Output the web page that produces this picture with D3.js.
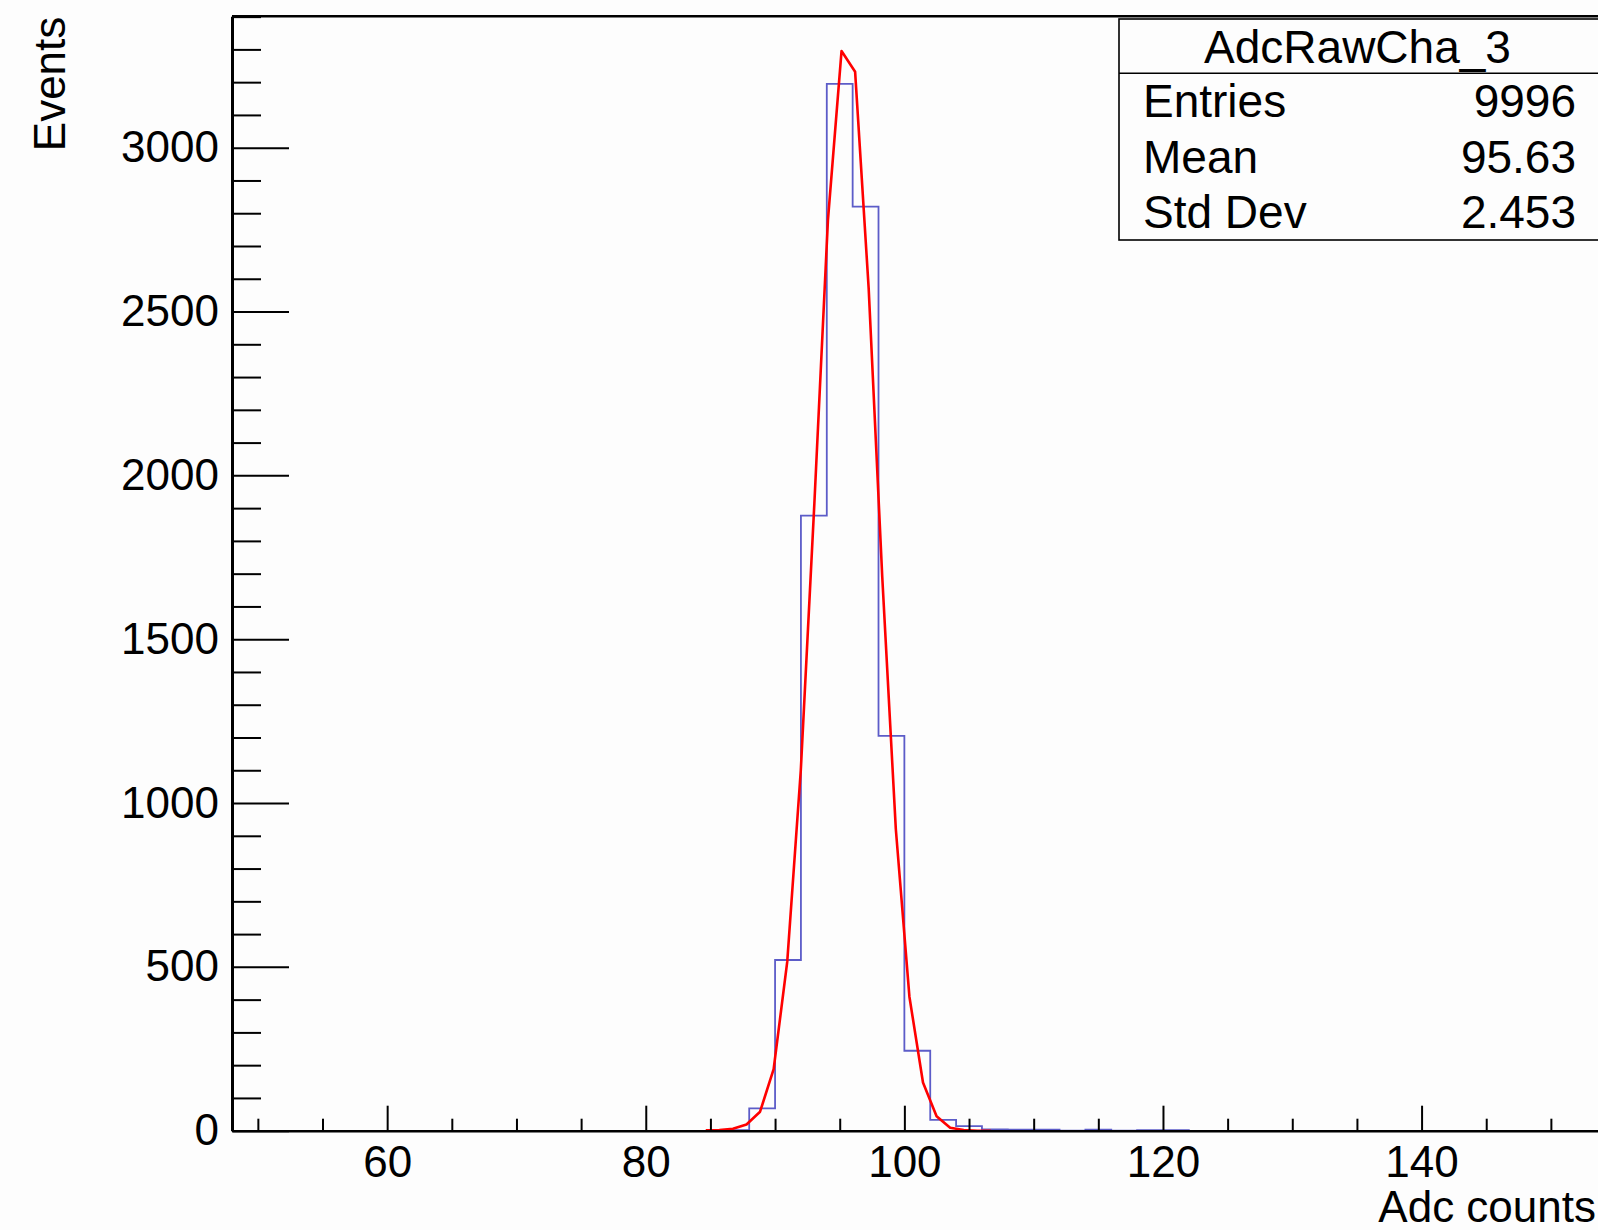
<!DOCTYPE html>
<html>
<head>
<meta charset="utf-8">
<script src="https://cdn.jsdelivr.net/npm/d3@7"></script>
<style>
  html, body { margin: 0; padding: 0; background: #fdfdfd; }
  svg { display: block; font-family: "Liberation Sans", Arial, Helvetica, sans-serif; }
</style>
</head>
<body>
<div id="chart"></div>
<script>
// histogram: low edge of each 2-count bin and its entries
const binLow = [86, 88, 90, 92, 94, 96, 98, 100, 102, 104, 106, 108, 110, 112, 114, 116, 118, 120];
const binCounts = [2, 68, 521, 1877, 3195, 2820, 1205, 244, 33, 14, 4, 3, 3, 0, 3, 0, 2, 2];
const binWidth = 2;

// gaussian fit, the polyline vertices
const fitX = [84.64, 85.69, 86.74, 87.79, 88.84, 89.89, 90.94, 91.99, 93.04, 94.09, 95.14,
  96.19, 97.24, 98.29, 99.34, 100.39, 101.44, 102.49, 103.54, 104.59, 105.64, 106.69];
const fitY = [1, 2, 6, 19, 58, 188, 515, 1100, 1915, 2780, 3295,
  3232, 2570, 1690, 920, 409, 147, 44, 9, 2, 0, 0];

const xTicks = [60, 80, 100, 120, 140];
const yTicks = [0, 500, 1000, 1500, 2000, 2500, 3000];

const histName = 'AdcRawCha_3';
const statLabels = ['Entries', 'Mean', 'Std Dev'];
const statValues = ['9996', '95.63', '2.453'];

class HistPlot {

  constructor(_config) {
    this.config = {
      parentElement: _config.parentElement,
      containerWidth: 1598,
      containerHeight: 1230,
      margin: { top: 16.3, right: -4.6, bottom: 99.3, left: 232 },
      xDomain: [48, 154],
      yDomain: [0, 3401]
    };
    this.initVis();
  }

  initVis() {
    let vis = this;

    vis.width = vis.config.containerWidth - vis.config.margin.left - vis.config.margin.right;
    vis.height = vis.config.containerHeight - vis.config.margin.top - vis.config.margin.bottom;

    vis.svg = d3.select(vis.config.parentElement).append('svg')
      .attr('width', vis.config.containerWidth)
      .attr('height', vis.config.containerHeight);

    vis.chart = vis.svg.append('g')
      .attr('transform', `translate(${vis.config.margin.left},${vis.config.margin.top})`);

    vis.xScale = d3.scaleLinear().domain(vis.config.xDomain).range([0, vis.width]);
    vis.yScale = d3.scaleLinear().domain(vis.config.yDomain).range([vis.height, 0]);

    vis.renderVis();
  }

  renderVis() {
    let vis = this;
    const x = vis.xScale, y = vis.yScale;

    // step outline of the histogram
    const last = binLow.length - 1;
    const steps = [{ x: binLow[0], y: 0 }]
      .concat(binLow.map((b, i) => ({ x: b, y: binCounts[i] })))
      .concat([{ x: binLow[last] + binWidth, y: binCounts[last] }, { x: binLow[last] + binWidth, y: 0 }]);

    vis.chart.append('path')
      .datum(steps)
      .attr('fill', 'none')
      .attr('stroke', '#5c5cc8')
      .attr('stroke-width', 1.8)
      .attr('d', d3.line().x(d => x(d.x)).y(d => y(d.y)).curve(d3.curveStepAfter));

    vis.chart.append('path')
      .datum(fitX.map((v, i) => [v, fitY[i]]))
      .attr('fill', 'none')
      .attr('stroke', '#ff0000')
      .attr('stroke-width', 2.6)
      .attr('stroke-linejoin', 'round')
      .attr('d', d3.line().x(d => x(d[0])).y(d => y(d[1])));

    // minor ticks first, majors + labels on top
    const yMinor = d3.range(0, 3401, 100).filter(v => v % 500 !== 0);
    const xMinor = d3.range(50, 155, 5).filter(v => v % 20 !== 0);

    vis.chart.append('g')
      .attr('class', 'axis y-minor')
      .call(d3.axisLeft(y).tickValues(yMinor).tickSize(-29).tickFormat(''));

    vis.chart.append('g')
      .attr('class', 'axis x-minor')
      .attr('transform', `translate(0,${vis.height})`)
      .call(d3.axisBottom(x).tickValues(xMinor).tickSize(-12).tickFormat(''));

    vis.chart.append('g')
      .attr('class', 'axis y-axis')
      .call(d3.axisLeft(y).tickValues(yTicks).tickSizeInner(-57).tickSizeOuter(0)
        .tickPadding(13).tickFormat(d3.format('d')));

    vis.chart.append('g')
      .attr('class', 'axis x-axis')
      .attr('transform', `translate(0,${vis.height})`)
      .call(d3.axisBottom(x).tickValues(xTicks).tickSizeInner(-25).tickSizeOuter(0)
        .tickPadding(15).tickFormat(d3.format('d')));

    vis.chart.selectAll('.y-minor .domain, .x-minor .domain').remove();
    vis.chart.selectAll('.axis .tick line').attr('stroke', '#000').attr('stroke-width', 2);
    vis.chart.selectAll('.axis text').attr('fill', '#000').style('font-size', '44px');
    vis.chart.select('.y-axis .domain').attr('stroke', '#000').attr('stroke-width', 3);
    vis.chart.select('.x-axis .domain').attr('stroke', '#000').attr('stroke-width', 2.5);

    // top frame edge
    vis.chart.append('line')
      .attr('x1', 0).attr('x2', vis.width)
      .attr('y1', 0).attr('y2', 0)
      .attr('stroke', '#000').attr('stroke-width', 2.5);

    // axis titles, right aligned as in ROOT
    vis.svg.append('text')
      .attr('transform', 'translate(65,16.7) rotate(-90)')
      .attr('text-anchor', 'end')
      .style('font-size', '44px')
      .text('Events');

    vis.svg.append('text')
      .attr('x', vis.config.containerWidth - 2)
      .attr('y', 1221.7)
      .attr('text-anchor', 'end')
      .style('font-size', '44px')
      .text('Adc counts');

    // stats box
    const box = vis.svg.append('g').attr('class', 'stats');
    box.append('rect')
      .attr('x', 1119).attr('y', 19)
      .attr('width', 481).attr('height', 221)
      .attr('fill', '#fdfdfd')
      .attr('stroke', '#000').attr('stroke-width', 1.6);
    box.append('line')
      .attr('x1', 1119).attr('x2', 1600)
      .attr('y1', 73.3).attr('y2', 73.3)
      .attr('stroke', '#000').attr('stroke-width', 1.6);
    box.append('text')
      .attr('x', 1357.5).attr('y', 63)
      .attr('text-anchor', 'middle')
      .style('font-size', '46px')
      .text(histName);

    const rowY = [116.5, 172.5, 228];
    box.selectAll('.stat-label')
      .data(statLabels)
      .join('text')
      .attr('class', 'stat-label')
      .attr('x', 1143)
      .attr('y', (d, i) => rowY[i])
      .style('font-size', '46px')
      .text(d => d);
    box.selectAll('.stat-value')
      .data(statValues)
      .join('text')
      .attr('class', 'stat-value')
      .attr('x', 1576)
      .attr('y', (d, i) => rowY[i])
      .attr('text-anchor', 'end')
      .style('font-size', '46px')
      .text(d => d);
  }
}

new HistPlot({ parentElement: '#chart' });
</script>
</body>
</html>
